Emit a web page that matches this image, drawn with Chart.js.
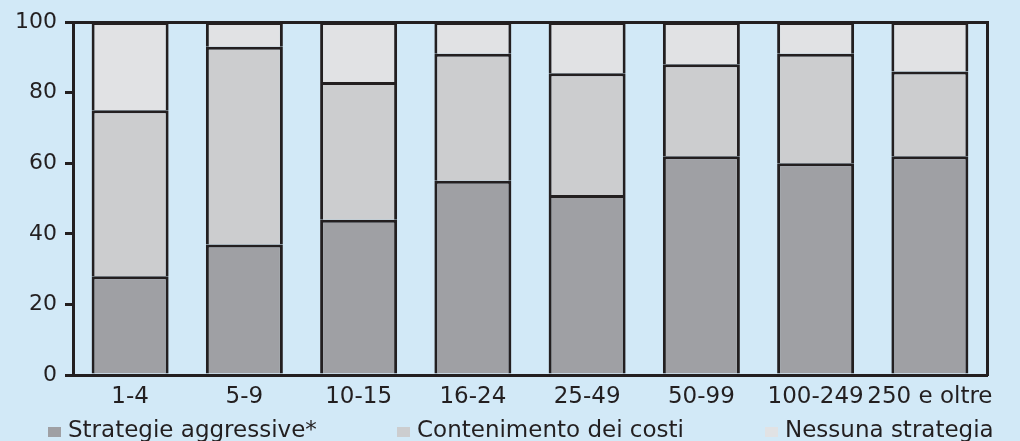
<!DOCTYPE html>
<html>
<head>
<meta charset="utf-8">
<script src="https://cdn.jsdelivr.net/npm/chart.js"></script>
<style>
  html, body { margin: 0; padding: 0; background: #d2e9f7; }
  #wrap { width: 1020px; height: 441px; }
</style>
</head>
<body>
<div id="wrap"><canvas id="chart" width="1020" height="441"></canvas></div>
<script>
const categories = ["1-4", "5-9", "10-15", "16-24", "25-49", "50-99", "100-249", "250 e oltre"];
const seriesNames = ["Strategie aggressive*", "Contenimento dei costi", "Nessuna strategia"];
const aggressive = [28, 37, 44, 55, 51, 62, 60, 62];
const contenimento = [47, 56, 39, 36, 34.5, 26, 31, 24];
const nessuna = [25, 7, 17, 9, 14.5, 12, 9, 14];
const yTicks = [0, 20, 40, 60, 80, 100];

const ink = "#231f20";
const colors = ["#9fa0a4", "#cccdcf", "#e1e2e4"];

// legend drawn inside the canvas, below the x labels
const bottomLegend = {
  id: "bottomLegend",
  afterDraw(chart, args, opts) {
    const ctx = chart.ctx;
    ctx.save();
    ctx.font = "23px 'DejaVu Sans'";
    ctx.textBaseline = "alphabetic";
    ctx.textAlign = "left";
    chart.data.datasets.forEach((ds, i) => {
      const x = opts.xs[i];
      ctx.fillStyle = ds.backgroundColor;
      ctx.fillRect(x, opts.y - 10, 13, 10);
      ctx.fillStyle = ink;
      ctx.fillText(ds.label, x + 20, opts.y);
    });
    ctx.restore();
  }
};

const tickFont = { family: "'DejaVu Sans'", size: 22 };

new Chart(document.getElementById("chart"), {
  type: "bar",
  data: {
    labels: categories,
    datasets: [
      { label: seriesNames[0], data: aggressive, backgroundColor: colors[0] },
      { label: seriesNames[1], data: contenimento, backgroundColor: colors[1] },
      { label: seriesNames[2], data: nessuna, backgroundColor: colors[2] }
    ].map(ds => Object.assign(ds, {
      borderColor: ink,
      borderWidth: 3,
      barPercentage: 0.674,
      categoryPercentage: 1
    }))
  },
  options: {
    responsive: false,
    animation: false,
    layout: { padding: { top: 22, left: 0, right: 0, bottom: 30 } },
    plugins: {
      legend: { display: false },
      tooltip: { enabled: false },
      bottomLegend: { xs: [48, 397, 765], y: 437 }
    },
    scales: {
      x: {
        stacked: true,
        grid: { display: false },
        border: { display: true, color: ink, width: 3 },
        ticks: { color: ink, font: { family: "'DejaVu Sans'", size: 23 }, padding: 0, maxRotation: 0, autoSkip: false },
        afterFit(scale) { scale.height = 36; }
      },
      y: {
        stacked: true,
        min: 0,
        max: 100,
        afterBuildTicks(scale) { scale.ticks = yTicks.map(v => ({ value: v })); },
        grid: {
          color: c => (c.tick && c.tick.value === 100) ? ink : "transparent",
          tickColor: ink,
          lineWidth: 3,
          tickLength: 8
        },
        border: { display: true, color: ink, width: 3 },
        ticks: { color: ink, font: tickFont, padding: 8 },
        afterFit(scale) { scale.width = 73; }
      },
      y2: {
        position: "right",
        min: 0,
        max: 100,
        grid: { display: false, drawTicks: false },
        ticks: { display: false },
        border: { display: true, color: ink, width: 3 },
        afterFit(scale) { scale.width = 33; }
      }
    }
  },
  plugins: [bottomLegend]
});
</script>
</body>
</html>
